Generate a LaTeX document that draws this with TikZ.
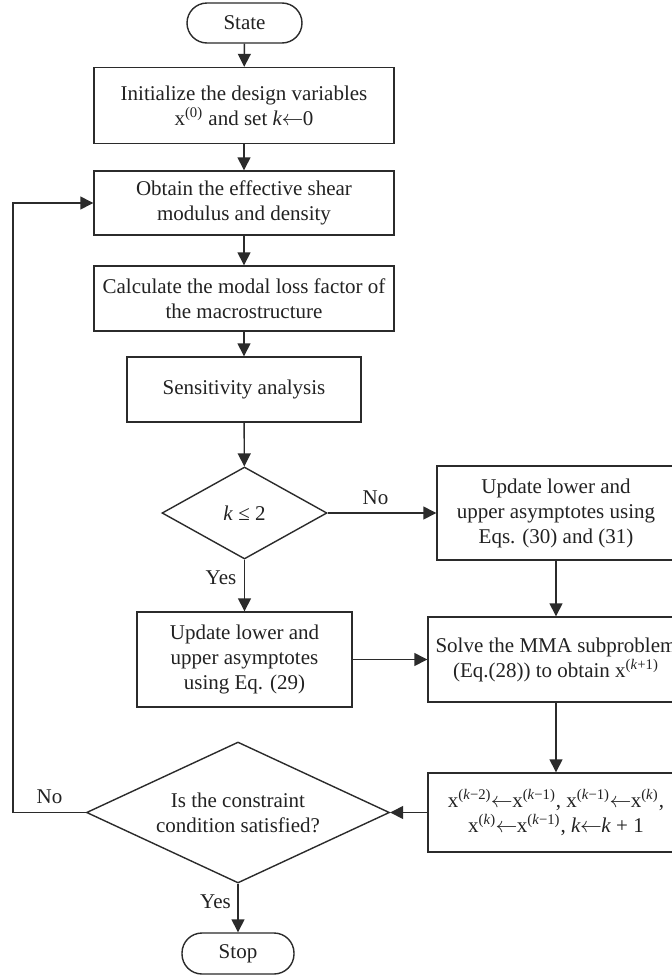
\documentclass[tikz,border=0pt]{standalone}
\usepackage{fontspec}
\setmainfont{Liberation Serif}
\usetikzlibrary{shapes.geometric,arrows.meta}
\definecolor{linec}{HTML}{2B2B2B}
\definecolor{txtc}{HTML}{222222}
\newcommand{\sps}[1]{\textsuperscript{(#1)}}
\newcommand{\lar}{\ensuremath{\mkern-0.5mu\leftarrow\mkern-0.5mu}}
\begin{document}
\begin{tikzpicture}[x=0.5pt,y=-0.5pt,
  font=\fontsize{10.5}{12.5}\selectfont,
  every node/.style={text=txtc},
  box/.style={draw=linec, line width=0.7pt, rectangle, align=center, inner sep=0pt},
  term/.style={draw=linec, line width=0.7pt, rectangle, rounded corners=10pt, align=center, inner sep=0pt},
  dec/.style={draw=linec, line width=0.7pt, diamond, inner sep=0pt},
  arr/.style={draw=linec, line width=0.7pt, -{Triangle[length=6.5pt,width=6.5pt]}},
  lab/.style={inner sep=0pt}]
\clip (0,0) rectangle (672,975);
\fill[white] (0,0) rectangle (672,975);

\node[term, minimum width=57.5pt, minimum height=20pt] (state) at (244.5,23) {State};
\node[box, minimum width=150pt, minimum height=38pt] (b1) at (244,105.5)
  {Initialize the design variables\\ x\sps{0} and set \textit{k}\lar0};
\node[box, minimum width=150pt, minimum height=32pt] (b2) at (244,203)
  {Obtain the effective shear\\ modulus and density};
\node[box, minimum width=150pt, minimum height=32.5pt] (b3) at (244,298.5)
  {Calculate the modal loss factor of\\ the macrostructure};
\node[box, minimum width=117pt, minimum height=32.5pt] (b4) at (244,389.5)
  {Sensitivity analysis};
\node[dec, minimum width=82.5pt, minimum height=46pt] (d1) at (244.5,513) {};
\node[lab] (d1t) at (d1.center) {\textit{k} ≤ 2};
\node[box, minimum width=107.5pt, minimum height=47.5pt] (b5) at (244.5,659.5)
  {Update lower and\\ upper asymptotes\\ using Eq. (29)};
\node[box, minimum width=119pt, minimum height=47pt] (r1) at (556,513)
  {Update lower and\\ upper asymptotes using\\ Eqs. (30) and (31)};
\node[box, minimum width=128pt, minimum height=42.5pt] (r2) at (556,659.5)
  {Solve the MMA subproblem\\ (Eq.(28)) to obtain x\sps{\textit{k}+1}};
\node[box, minimum width=128pt, minimum height=39.5pt] (r3) at (556,812.5)
  {x\sps{\textit{k}−2}\lar x\sps{\textit{k}−1}, x\sps{\textit{k}−1}\lar x\sps{\textit{k}},\\
   x\sps{\textit{k}}\lar x\sps{\textit{k}−1}, \textit{k}\lar\textit{k} + 1};
\node[dec, minimum width=151.5pt, minimum height=70.5pt] (d2) at (238,812.5) {};
\node[lab, align=center] (d2t) at (d2.center) {Is the constraint\\ condition satisfied?};
\node[term, minimum width=56pt, minimum height=20.5pt] (stop) at (238,953.5) {Stop};

\coordinate (fb) at (13,812.5);

\draw[arr] (state) -- (b1);
\draw[arr] (b1) -- (b2);
\draw[arr] (b2) -- (b3);
\draw[arr] (b3) -- (b4);
\draw[arr] (b4) -- (d1);
\draw[arr] (d1) -- (r1);
\draw[arr] (d1) -- (b5);
\draw[arr] (b5) -- (r2);
\draw[arr] (r1) -- (r2);
\draw[arr] (r2) -- (r3);
\draw[arr] (r3) -- (d2);
\draw[arr] (d2.west) -- (fb) |- (b2.west);
\draw[arr] (d2) -- (stop);

\node[lab] (no1) at (375.5,498) {No};
\node[lab] (yes1) at (221,578) {Yes};
\node[lab] (no2) at (49.5,797) {No};
\node[lab] (yes2) at (215.5,902) {Yes};
\end{tikzpicture}
\end{document}
